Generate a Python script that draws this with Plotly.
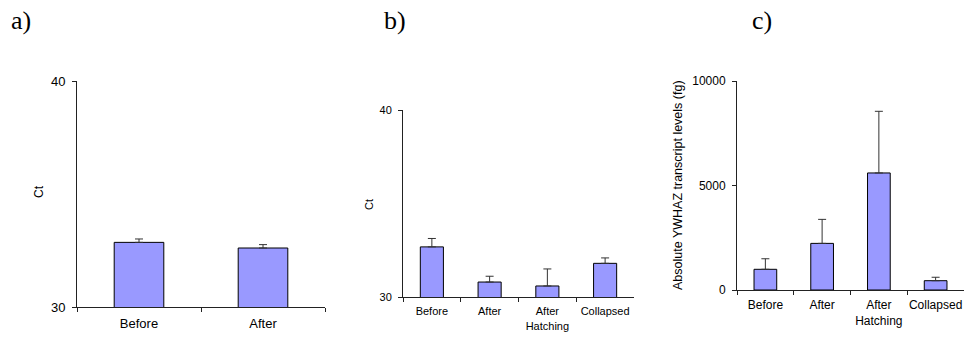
import plotly.graph_objects as go

# Panel a: Ct before / after
cats_a = ["Before", "After"]
ct_a = [32.86, 32.61]
ct_a_err = [0.15, 0.15]

# Panel b: Ct across four stages
cats_b = ["Before", "After", "After<br>Hatching", "Collapsed"]
ct_b = [32.68, 30.80, 30.59, 31.80]
ct_b_err = [0.45, 0.31, 0.91, 0.29]

# Panel c: absolute YWHAZ transcript levels (fg)
cats_c = ["Before", "After", "After<br>Hatching", "Collapsed"]
abs_c = [990, 2230, 5600, 445]
abs_c_err = [505, 1150, 2950, 165]
ticks_c = [0, 5000, 10000]

BAR_FILL = "#9999FF"
AXIS_COL = "#222222"
FONT = "Liberation Sans, Arial, sans-serif"

fig = go.Figure()


def add_bars(x, y, err, xa, ya):
    fig.add_trace(go.Bar(
        x=x, y=y, width=0.4,
        marker=dict(color=BAR_FILL, line=dict(color="black", width=1)),
        error_y=dict(type="data", symmetric=False, array=err,
                     arrayminus=[0] * len(err), color="#333333",
                     thickness=1, width=4),
        xaxis=xa, yaxis=ya, showlegend=False, hoverinfo="x+y",
    ))


add_bars(cats_a, ct_a, ct_a_err, "x", "y")
add_bars(cats_b, ct_b, ct_b_err, "x2", "y2")
add_bars(cats_c, abs_c, abs_c_err, "x3", "y3")

W, H = 965, 338


def xdom(l, r):
    return [l / W, r / W]


def ydom(bottom, top):
    return [1 - bottom / H, 1 - top / H]


xcommon = dict(showline=True, linecolor=AXIS_COL, linewidth=1, ticks="outside",
               tickson="boundaries", ticklen=4, tickcolor=AXIS_COL,
               tickangle=0, ticklabelstandoff=4, automargin=False,
               showgrid=False, zeroline=False, fixedrange=True)
ycommon = dict(showline=True, linecolor=AXIS_COL, linewidth=1, ticks="outside",
               ticklen=4, tickcolor=AXIS_COL, ticklabelstandoff=4,
               automargin=False, showgrid=False, zeroline=False,
               fixedrange=True)

fig.update_layout(
    width=W, height=H,
    margin=dict(l=0, r=0, t=0, b=0, autoexpand=False),
    paper_bgcolor="white", plot_bgcolor="white",
    font=dict(family=FONT, size=12, color="black"),
    bargap=0.6,
    xaxis=dict(domain=xdom(77, 325), anchor="y",
               tickfont=dict(size=13), **xcommon),
    yaxis=dict(domain=ydom(307, 81), anchor="x", range=[30, 40],
               tickvals=[30, 40], tickfont=dict(size=13), **ycommon),
    xaxis2=dict(domain=xdom(403, 634), anchor="y2",
                tickfont=dict(size=11), **xcommon),
    yaxis2=dict(domain=ydom(297, 110), anchor="x2", range=[30, 40],
                tickvals=[30, 40], tickfont=dict(size=11), **ycommon),
    xaxis3=dict(domain=xdom(737, 964), anchor="y3",
                tickfont=dict(size=12), **xcommon),
    yaxis3=dict(domain=ydom(290, 81), anchor="x3", range=[0, 10000],
                tickvals=ticks_c, ticktext=[str(t) for t in ticks_c],
                tickfont=dict(size=12), **ycommon),
)

annotations = [
    # panel letters
    dict(text="a)", x=21 / W, y=1 - 21 / H),
    dict(text="b)", x=395 / W, y=1 - 21 / H),
    dict(text="c)", x=762 / W, y=1 - 21 / H),
]
for a in annotations:
    a.update(xref="paper", yref="paper", showarrow=False,
             xanchor="center", yanchor="middle",
             font=dict(family="Liberation Serif, Times New Roman, serif",
                       size=26, color="black"))

axis_titles = [
    dict(text="Ct", x=39 / W, y=1 - 192 / H, font=dict(size=12)),
    dict(text="Ct", x=369 / W, y=1 - 205 / H, font=dict(size=11)),
    dict(text="Absolute YWHAZ transcript levels (fg)", x=678 / W,
         y=1 - 185 / H, font=dict(size=12.5)),
]
for a in axis_titles:
    a.update(xref="paper", yref="paper", showarrow=False, textangle=-90,
             xanchor="center", yanchor="middle")
    a["font"].update(family=FONT, color="black")

fig.update_layout(annotations=annotations + axis_titles)

fig.write_html("out.html")
